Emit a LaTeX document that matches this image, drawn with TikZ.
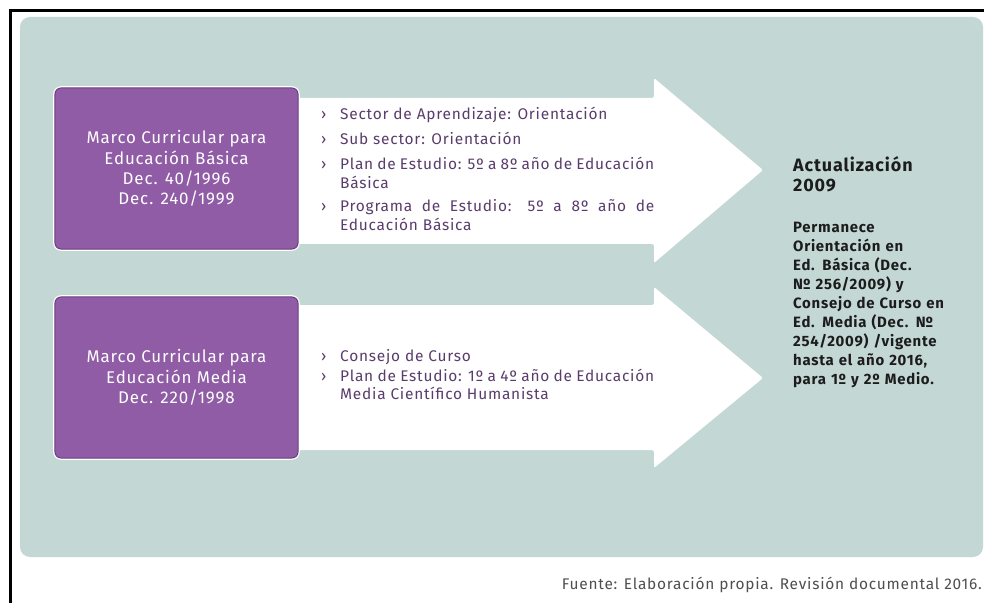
\documentclass[tikz,border=0pt]{standalone}
\usepackage{fontspec}
\setmainfont{Fira Sans}[LetterSpace=5]
\definecolor{panel}{HTML}{C3D7D5}
\definecolor{boxpurple}{HTML}{8F5CA5}
\definecolor{boxedge}{HTML}{6C3F82}
\definecolor{bullettext}{HTML}{5A3C6C}
\definecolor{righttext}{HTML}{1C1C1C}
\definecolor{foot}{HTML}{4F4F4F}
\newcommand{\numsign}{N\kern0ptº}
\tikzset{
  arrowshape/.style={fill=white, rounded corners=2bp},
  mcbox/.style={fill=boxpurple, draw=boxedge, line width=1bp, rounded corners=6bp,
    minimum width=243bp, minimum height=161bp, inner sep=0pt,
    preaction={draw=white, line width=3.5bp},
    text=white, align=center, font=\fontsize{17}{20.5}\selectfont},
  bul/.style={anchor=base west, inner sep=0pt, text=bullettext, font=\fontsize{15.5}{19}\selectfont},
  bultext/.style={bul, text width=314bp, align=justify},
  rtext/.style={anchor=base west, inner sep=0pt, text=righttext, align=left, text width=185bp},
}
\begin{document}
\begin{tikzpicture}[x=1bp,y=-1bp]
\useasboundingbox (0,0) rectangle (984,603);
\fill[white] (0,0) rectangle (984,603);
\draw[line width=3bp] (10.5,603) -- (10.5,11) -- (984,11);
\fill[panel, rounded corners=10bp] (20,17) rectangle (983,557);
% arrows
\fill[arrowshape] (290,98) -- (654,98) -- (654,78) -- (763,170) -- (654,263) -- (654,244) -- (290,244) -- cycle;
\fill[arrowshape] (290,305) -- (654,305) -- (654,287) -- (763,378) -- (654,468) -- (654,450) -- (290,450) -- cycle;
% boxes
\node[mcbox] (b1) at (176.5,168.5) {Marco Curricular para\\Educación Básica\\Dec. 40/1996\\Dec. 240/1999};
\node[mcbox] (b2) at (176.5,377.5) {Marco Curricular para\\Educación Media\\Dec. 220/1998};
% bullets arrow 1
\foreach \y/\t in {119.5/{Sector de Aprendizaje: Orientación}, 145/{Sub sector: Orientación}, 170/{Plan de Estudio: 5º a 8º año de Educación\linebreak Básica}, 212/{Programa de Estudio: 5º a 8º año de\linebreak Educación Básica}}{
  \node[bul] at (321,\y) {›};
  \node[bultext] at (340,\y) {\t};
}
% bullets arrow 2
\foreach \y/\t in {361.5/{Consejo de Curso}, 381/{Plan de Estudio: 1º a 4º año de Educación\linebreak Media Científico Humanista}}{
  \node[bul] at (321,\y) {›};
  \node[bultext] at (340,\y) {\t};
}
% right text
\node[rtext, font=\fontsize{18}{20}\selectfont\bfseries] (act) at (793,171.5) {Actualización\\2009};
\node[rtext, font=\fontsize{15}{19}\selectfont\bfseries] (perm) at (793,233) {Permanece\\Orientación en\\Ed. Básica (Dec.\\\numsign{} 256/2009) y\\Consejo de Curso en\\Ed. Media (Dec. \numsign\\254/2009) /vigente\\hasta el año 2016,\\para 1º y 2º Medio.};
% footer
\node[anchor=base east, inner sep=0pt, text=foot, font=\fontsize{15.5}{17}\selectfont] (foot) at (982,589) {Fuente: Elaboración propia. Revisión documental 2016.};
\end{tikzpicture}
\end{document}
